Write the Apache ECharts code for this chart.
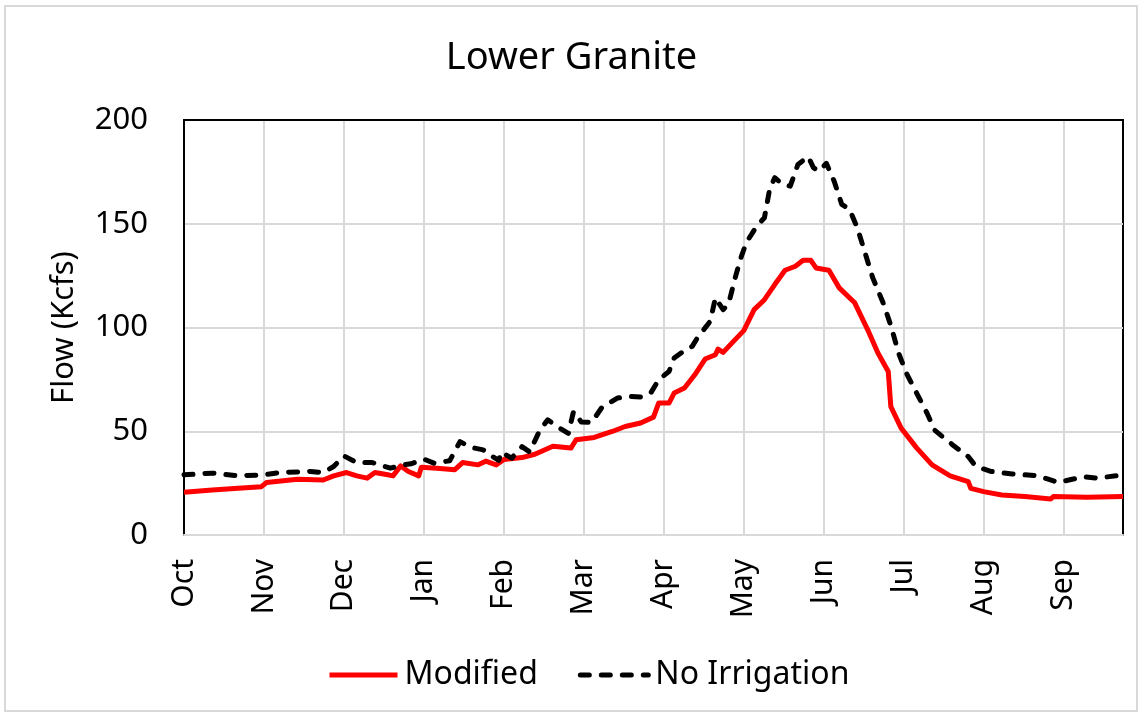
<!DOCTYPE html>
<html>
<head>
<meta charset="utf-8">
<script src="https://cdn.jsdelivr.net/npm/echarts@6/dist/echarts.min.js"></script>
<style>
  html, body { margin: 0; padding: 0; background: #fff; }
  #chart { width: 1143px; height: 717px; }
</style>
</head>
<body>
<div id="chart"></div>
<script>
// month labels, shown every 31st day like the excel category axis
var tickLabels = ['Oct', 'Nov', 'Dec', 'Jan', 'Feb', 'Mar', 'Apr', 'May', 'Jun', 'Jul', 'Aug', 'Sep'];

// Modified flow (Kcfs), day of water year -> value
var modDays = [0, 11, 21, 30, 32, 44, 54, 58, 63, 67, 71, 74, 79, 81, 84, 87, 91, 92, 98, 105, 108, 114, 117, 121, 124, 131, 136, 143, 150, 152, 159, 166, 171, 177, 182, 184, 188, 190, 194, 198, 202, 206, 207, 209, 213, 217, 221, 225, 229, 233, 237, 240, 243, 245, 250, 254, 260, 265, 269, 273, 274, 278, 284, 290, 297, 304, 305, 310, 317, 326, 336, 337, 350, 364];
var modVals = [20.6, 21.7, 22.5, 23.3, 25.3, 26.9, 26.5, 28.5, 30.1, 28.5, 27.4, 30.1, 29, 28.5, 33.3, 30.6, 28.5, 32.7, 32.2, 31.5, 34.9, 33.8, 35.6, 33.8, 36.4, 37.3, 38.9, 42.8, 41.9, 45.9, 47, 49.9, 52.3, 54, 56.8, 63.6, 63.6, 68.4, 70.8, 77.2, 84.8, 86.9, 89.6, 88, 93.3, 98.5, 108.6, 113.4, 120.7, 127.6, 129.5, 132.4, 132.4, 128.7, 127.6, 119.1, 111.9, 99, 87.7, 78.8, 61.9, 51.5, 42, 33.8, 28.5, 25.7, 22.5, 20.9, 19.3, 18.5, 17.4, 18.5, 18.2, 18.5];

// No Irrigation flow (Kcfs)
var nirDays = [0, 11, 21, 31, 37, 49, 54, 58, 62, 67, 73, 80, 85, 88, 93, 97, 103, 107, 111, 116, 120, 122, 123, 127, 131, 134, 138, 141, 145, 149, 151, 154, 158, 162, 168, 173, 177, 181, 184, 188, 190, 193, 197, 199, 204, 206, 209, 211, 214, 216, 218, 222, 225, 227, 229, 232, 235, 238, 242, 244, 246, 249, 252, 255, 258, 261, 264, 267, 271, 274, 277, 280, 284, 288, 291, 298, 304, 307, 313, 321, 326, 331, 335, 339, 343, 349, 354, 364];
var nirVals = [29, 29.8, 28.5, 29, 30.1, 30.6, 30.1, 33, 38.1, 34.9, 34.9, 32.2, 33.8, 34.3, 36.6, 34.6, 35.8, 45, 42.3, 41, 37.5, 36, 40, 37, 42.6, 40, 50.7, 55.5, 52, 49, 59.5, 54.5, 54.2, 61.5, 66, 66.8, 66.5, 68.6, 74.8, 78.8, 85.3, 88, 90.9, 95, 103, 114.3, 108.6, 111, 125.5, 134, 141, 148.8, 152.9, 166.5, 172.2, 169, 168.1, 178.6, 182.3, 177, 175.4, 179.1, 170.6, 159.3, 156.9, 148.1, 136, 123.9, 111.9, 101, 87.7, 78.1, 68.4, 58.8, 50.5, 43.4, 37.8, 33, 30.6, 29.4, 29, 28.5, 26.9, 25.3, 26.5, 28.1, 27.4, 29];

var yTicks = [0, 50, 100, 150, 200];

// daily categories for one water year
var days = [];
var start = new Date(2000, 9, 1);
for (var i = 0; i < 365; i++) {
  var d = new Date(start.getTime());
  d.setDate(start.getDate() + i);
  days.push(d.getFullYear() + '-' + (d.getMonth() + 1) + '-' + d.getDate());
}

function pairs(xs, ys) {
  var out = [];
  for (var i = 0; i < xs.length; i++) out.push([xs[i], ys[i]]);
  return out;
}

var font = '"Noto Sans", sans-serif';
var gridLine = { color: '#d9d9d9', width: 2 };
var chart = echarts.init(document.getElementById('chart'), null, { renderer: 'canvas' });

var option = {
  backgroundColor: '#fff',
  animation: false,
  textStyle: { fontFamily: font, color: '#000' },
  title: {
    text: 'Lower Granite',
    left: 'center',
    top: 34,
    textStyle: { fontFamily: font, fontSize: 38, fontWeight: 'normal', color: '#000' }
  },
  graphic: [{
    type: 'rect',
    shape: { x: 5, y: 6, width: 1132, height: 705 },
    style: { fill: 'none', stroke: '#d9d9d9', lineWidth: 2 },
    z: -10
  }],
  legend: {
    left: 322,
    top: 654,
    itemWidth: 68,
    itemHeight: 14,
    itemGap: 40,
    itemStyle: { opacity: 0 },
    lineStyle: { width: 5 },
    textStyle: { fontFamily: font, fontSize: 32, color: '#000', padding: [0, 0, 0, 2] },
    data: ['Modified', 'No Irrigation']
  },
  grid: {
    left: 184,
    right: 20,
    top: 120,
    bottom: 182,
    show: true,
    borderColor: '#000',
    borderWidth: 2,
    backgroundColor: 'transparent'
  },
  xAxis: [{
    type: 'category',
    data: days,
    boundaryGap: false,
    axisLine: { show: true, lineStyle: gridLine },
    axisTick: { show: false },
    axisLabel: {
      interval: 30,
      rotate: 90,
      margin: 24,
      fontSize: 30,
      color: '#000',
      fontFamily: font,
      formatter: function (val, idx) {
        return tickLabels[Math.round(idx / 31)];
      }
    },
    splitLine: { show: true, interval: 30, lineStyle: gridLine }
  }, {
    // top frame line of the plot area
    type: 'category',
    data: days,
    position: 'top',
    boundaryGap: false,
    axisLine: { show: true, lineStyle: { color: '#000', width: 2 } },
    axisTick: { show: false },
    axisLabel: { show: false },
    splitLine: { show: false }
  }],
  yAxis: {
    type: 'value',
    min: yTicks[0],
    max: yTicks[yTicks.length - 1],
    interval: 50,
    name: 'Flow (Kcfs)',
    nameLocation: 'middle',
    nameGap: 104,
    nameTextStyle: { fontFamily: font, fontSize: 31, color: '#000' },
    axisLine: { show: true, lineStyle: { color: '#000', width: 2 } },
    axisTick: { show: false },
    axisLabel: { margin: 36, fontSize: 31, color: '#000', fontFamily: font },
    splitLine: { show: true, lineStyle: gridLine }
  },
  series: [{
    name: 'Modified',
    type: 'line',
    symbol: 'none',
    smooth: false,
    color: '#ff0000',
    lineStyle: { color: '#ff0000', width: 5, join: 'round' },
    data: pairs(modDays, modVals)
  }, {
    name: 'No Irrigation',
    type: 'line',
    symbol: 'none',
    smooth: false,
    color: '#000',
    lineStyle: { color: '#000', width: 5, type: [9, 12], cap: 'round', join: 'round' },
    data: pairs(nirDays, nirVals)
  }]
};

chart.setOption(option);
</script>
</body>
</html>
